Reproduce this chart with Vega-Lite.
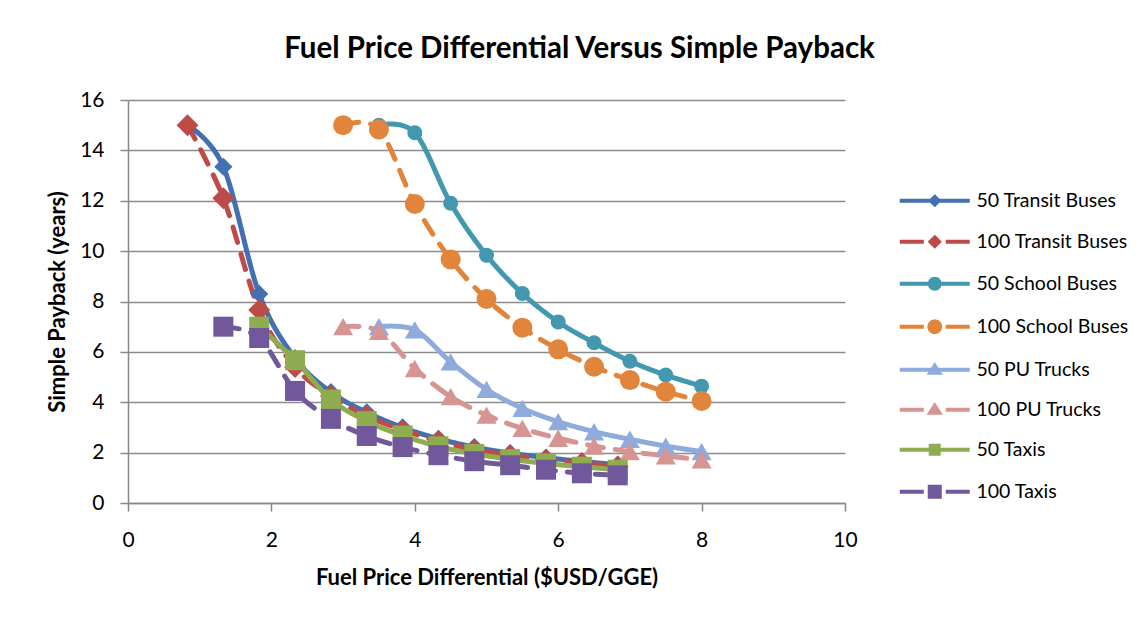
{
  "$schema": "https://vega.github.io/schema/vega-lite/v6.json",
  "width": 717,
  "height": 403,
  "autosize": {"type": "none"},
  "padding": {"left": 128, "top": 100, "right": 301, "bottom": 116},
  "background": "white",
  "config": {"font": "Lato", "view": {"stroke": null}},
  "title": {
    "text": "Fuel Price Differential Versus Simple Payback",
    "font": "Lato",
    "fontSize": 29.5,
    "fontWeight": "bold",
    "color": "black",
    "anchor": "middle",
    "frame": "group",
    "dx": 93,
    "offset": 25
  },
  "data": {
    "values": [
      {"series": "50 Transit Buses", "x": 0.83, "y": 15.0},
      {"series": "50 Transit Buses", "x": 1.33, "y": 13.35},
      {"series": "50 Transit Buses", "x": 1.83, "y": 8.3},
      {"series": "50 Transit Buses", "x": 2.33, "y": 5.75},
      {"series": "50 Transit Buses", "x": 2.83, "y": 4.4},
      {"series": "50 Transit Buses", "x": 3.33, "y": 3.6},
      {"series": "50 Transit Buses", "x": 3.83, "y": 3.0},
      {"series": "50 Transit Buses", "x": 4.33, "y": 2.55},
      {"series": "50 Transit Buses", "x": 4.83, "y": 2.22},
      {"series": "50 Transit Buses", "x": 5.33, "y": 1.98},
      {"series": "50 Transit Buses", "x": 5.83, "y": 1.8},
      {"series": "50 Transit Buses", "x": 6.33, "y": 1.65},
      {"series": "50 Transit Buses", "x": 6.83, "y": 1.52},
      {"series": "100 Transit Buses", "x": 0.83, "y": 15.0},
      {"series": "100 Transit Buses", "x": 1.33, "y": 12.1},
      {"series": "100 Transit Buses", "x": 1.83, "y": 7.66},
      {"series": "100 Transit Buses", "x": 2.33, "y": 5.4},
      {"series": "100 Transit Buses", "x": 2.83, "y": 4.25},
      {"series": "100 Transit Buses", "x": 3.33, "y": 3.45},
      {"series": "100 Transit Buses", "x": 3.83, "y": 2.9},
      {"series": "100 Transit Buses", "x": 4.33, "y": 2.45},
      {"series": "100 Transit Buses", "x": 4.83, "y": 2.12},
      {"series": "100 Transit Buses", "x": 5.33, "y": 1.9},
      {"series": "100 Transit Buses", "x": 5.83, "y": 1.72},
      {"series": "100 Transit Buses", "x": 6.33, "y": 1.58},
      {"series": "100 Transit Buses", "x": 6.83, "y": 1.45},
      {"series": "50 School Buses", "x": 3.5, "y": 15.0},
      {"series": "50 School Buses", "x": 4.0, "y": 14.7},
      {"series": "50 School Buses", "x": 4.5, "y": 11.9},
      {"series": "50 School Buses", "x": 5.0, "y": 9.84},
      {"series": "50 School Buses", "x": 5.5, "y": 8.32},
      {"series": "50 School Buses", "x": 6.0, "y": 7.19},
      {"series": "50 School Buses", "x": 6.5, "y": 6.36},
      {"series": "50 School Buses", "x": 7.0, "y": 5.63},
      {"series": "50 School Buses", "x": 7.5, "y": 5.08},
      {"series": "50 School Buses", "x": 8.0, "y": 4.64},
      {"series": "100 School Buses", "x": 3.0, "y": 15.0},
      {"series": "100 School Buses", "x": 3.5, "y": 14.83},
      {"series": "100 School Buses", "x": 4.0, "y": 11.87},
      {"series": "100 School Buses", "x": 4.5, "y": 9.67},
      {"series": "100 School Buses", "x": 5.0, "y": 8.1},
      {"series": "100 School Buses", "x": 5.5, "y": 6.96},
      {"series": "100 School Buses", "x": 6.0, "y": 6.1},
      {"series": "100 School Buses", "x": 6.5, "y": 5.41},
      {"series": "100 School Buses", "x": 7.0, "y": 4.88},
      {"series": "100 School Buses", "x": 7.5, "y": 4.42},
      {"series": "100 School Buses", "x": 8.0, "y": 4.05},
      {"series": "50 PU Trucks", "x": 3.5, "y": 7.0},
      {"series": "50 PU Trucks", "x": 4.0, "y": 6.87},
      {"series": "50 PU Trucks", "x": 4.5, "y": 5.6},
      {"series": "50 PU Trucks", "x": 5.0, "y": 4.51},
      {"series": "50 PU Trucks", "x": 5.5, "y": 3.76},
      {"series": "50 PU Trucks", "x": 6.0, "y": 3.23},
      {"series": "50 PU Trucks", "x": 6.5, "y": 2.83},
      {"series": "50 PU Trucks", "x": 7.0, "y": 2.53},
      {"series": "50 PU Trucks", "x": 7.5, "y": 2.26},
      {"series": "50 PU Trucks", "x": 8.0, "y": 2.04},
      {"series": "100 PU Trucks", "x": 3.0, "y": 7.0},
      {"series": "100 PU Trucks", "x": 3.5, "y": 6.82},
      {"series": "100 PU Trucks", "x": 4.0, "y": 5.34},
      {"series": "100 PU Trucks", "x": 4.5, "y": 4.22},
      {"series": "100 PU Trucks", "x": 5.0, "y": 3.49},
      {"series": "100 PU Trucks", "x": 5.5, "y": 2.96},
      {"series": "100 PU Trucks", "x": 6.0, "y": 2.57},
      {"series": "100 PU Trucks", "x": 6.5, "y": 2.26},
      {"series": "100 PU Trucks", "x": 7.0, "y": 2.04},
      {"series": "100 PU Trucks", "x": 7.5, "y": 1.87},
      {"series": "100 PU Trucks", "x": 8.0, "y": 1.71},
      {"series": "50 Taxis", "x": 1.83, "y": 7.0},
      {"series": "50 Taxis", "x": 2.33, "y": 5.67},
      {"series": "50 Taxis", "x": 2.83, "y": 4.11},
      {"series": "50 Taxis", "x": 3.33, "y": 3.25},
      {"series": "50 Taxis", "x": 3.83, "y": 2.68},
      {"series": "50 Taxis", "x": 4.33, "y": 2.25},
      {"series": "50 Taxis", "x": 4.83, "y": 1.95},
      {"series": "50 Taxis", "x": 5.33, "y": 1.74},
      {"series": "50 Taxis", "x": 5.83, "y": 1.57},
      {"series": "50 Taxis", "x": 6.33, "y": 1.44},
      {"series": "50 Taxis", "x": 6.83, "y": 1.32},
      {"series": "100 Taxis", "x": 1.33, "y": 7.0},
      {"series": "100 Taxis", "x": 1.83, "y": 6.55},
      {"series": "100 Taxis", "x": 2.33, "y": 4.45},
      {"series": "100 Taxis", "x": 2.83, "y": 3.34},
      {"series": "100 Taxis", "x": 3.33, "y": 2.66},
      {"series": "100 Taxis", "x": 3.83, "y": 2.22},
      {"series": "100 Taxis", "x": 4.33, "y": 1.9},
      {"series": "100 Taxis", "x": 4.83, "y": 1.66},
      {"series": "100 Taxis", "x": 5.33, "y": 1.5},
      {"series": "100 Taxis", "x": 5.83, "y": 1.32},
      {"series": "100 Taxis", "x": 6.33, "y": 1.18},
      {"series": "100 Taxis", "x": 6.83, "y": 1.1}
    ]
  },
  "encoding": {
    "x": {
      "field": "x",
      "type": "quantitative",
      "scale": {"domain": [0, 10], "nice": false, "zero": true},
      "axis": {
        "values": [0, 2, 4, 6, 8, 10],
        "grid": false,
        "domainColor": "#888888",
        "domainWidth": 1.5,
        "tickColor": "#888888",
        "tickWidth": 1.5,
        "tickSize": 8,
        "labelFont": "Lato",
        "labelFontSize": 21,
        "labelColor": "black",
        "labelPadding": 18,
        "labelFlush": false,
        "labelOverlap": false,
        "title": "Fuel Price Differential ($USD/GGE)",
        "titleFont": "Lato",
        "titleFontSize": 22,
        "titleFontWeight": "bold",
        "titleColor": "black",
        "titleBaseline": "top",
        "titleY": 64
      }
    },
    "y": {
      "field": "y",
      "type": "quantitative",
      "scale": {"domain": [0, 16], "nice": false},
      "axis": {
        "values": [0, 2, 4, 6, 8, 10, 12, 14, 16],
        "grid": true,
        "gridColor": "#8c8c8c",
        "gridWidth": 1.5,
        "domainColor": "#888888",
        "domainWidth": 1.5,
        "tickColor": "#888888",
        "tickWidth": 1.5,
        "tickSize": 8,
        "labelFont": "Lato",
        "labelFontSize": 21,
        "labelColor": "black",
        "labelPadding": 16,
        "labelFlush": false,
        "labelOverlap": false,
        "title": "Simple Payback (years)",
        "titleFont": "Lato",
        "titleFontSize": 22,
        "titleFontWeight": "bold",
        "titleColor": "black",
        "titleBaseline": "middle",
        "titleX": -71
      }
    },
    "color": {
      "field": "series",
      "type": "nominal",
      "scale": {
        "domain": ["50 Transit Buses", "100 Transit Buses", "50 School Buses", "100 School Buses", "50 PU Trucks", "100 PU Trucks", "50 Taxis", "100 Taxis"],
        "range": ["#4270B0", "#BE4B48", "#4198AF", "#E0853B", "#8FAADC", "#D69492", "#8FAC50", "#71589B"]
      },
      "legend": null
    }
  },
  "layer": [
    {
      "mark": {"type": "line", "interpolate": "cardinal", "strokeWidth": 5, "strokeCap": "round", "strokeJoin": "round"},
      "encoding": {
        "strokeDash": {
          "field": "series",
          "type": "nominal",
          "scale": {
            "domain": ["50 Transit Buses", "100 Transit Buses", "50 School Buses", "100 School Buses", "50 PU Trucks", "100 PU Trucks", "50 Taxis", "100 Taxis"],
            "range": [[1, 0], [16, 12], [1, 0], [16, 12], [1, 0], [16, 12], [1, 0], [16, 12]]
          },
          "legend": null
        }
      }
    },
    {
      "mark": {"type": "point", "filled": true, "opacity": 1},
      "encoding": {
        "shape": {
          "field": "series",
          "type": "nominal",
          "scale": {
            "domain": ["50 Transit Buses", "100 Transit Buses", "50 School Buses", "100 School Buses", "50 PU Trucks", "100 PU Trucks", "50 Taxis", "100 Taxis"],
            "range": ["diamond", "diamond", "circle", "circle", "triangle-up", "triangle-up", "square", "square"]
          },
          "legend": null
        },
        "size": {
          "condition": [
            {"test": "datum.series === '50 Transit Buses'", "value": 330},
            {"test": "datum.series === '100 Transit Buses'", "value": 480},
            {"test": "datum.series === '50 School Buses'", "value": 225}
          ],
          "value": 400
        }
      }
    },
    {
      "transform": [{"filter": "false"}],
      "mark": {"type": "point", "filled": true},
      "encoding": {
        "color": {
          "field": "series",
          "type": "nominal",
          "scale": {
            "domain": ["50 Transit Buses", "100 Transit Buses", "50 School Buses", "100 School Buses", "50 PU Trucks", "100 PU Trucks", "50 Taxis", "100 Taxis"],
            "range": ["#4270B0", "#BE4B48", "#4198AF", "#E0853B", "#8FAADC", "#D69492", "#8FAC50", "#71589B"]
          },
          "legend": {
            "orient": "none",
            "legendX": 797,
            "legendY": 91,
            "title": null,
            "padding": 0,
            "symbolSize": 100,
            "symbolStrokeWidth": 4,
            "symbolOpacity": 1,
            "labelFont": "Lato",
            "labelFontSize": 19.5,
            "labelColor": "black",
            "labelOffset": 32,
            "rowPadding": 16
          }
        },
        "stroke": {
          "field": "series",
          "type": "nominal",
          "scale": {
            "domain": ["50 Transit Buses", "100 Transit Buses", "50 School Buses", "100 School Buses", "50 PU Trucks", "100 PU Trucks", "50 Taxis", "100 Taxis"],
            "range": ["#4270B0", "#BE4B48", "#4198AF", "#E0853B", "#8FAADC", "#D69492", "#8FAC50", "#71589B"]
          },
          "legend": null
        },
        "shape": {
          "field": "series",
          "type": "nominal",
          "scale": {
            "domain": ["50 Transit Buses", "100 Transit Buses", "50 School Buses", "100 School Buses", "50 PU Trucks", "100 PU Trucks", "50 Taxis", "100 Taxis"],
            "range": [
              "M-7,0H7M0,-0.75L0.75,0L0,0.75L-0.75,0Z",
              "M-7,0H-2.2M2.2,0H7M0,-0.85L0.85,0L0,0.85L-0.85,0Z",
              "M-7,0H7M1,0L0.87,0.5L0.5,0.87L0,1L-0.5,0.87L-0.87,0.5L-1,0L-0.87,-0.5L-0.5,-0.87L0,-1L0.5,-0.87L0.87,-0.5Z",
              "M-7,0H-2.2M2.2,0H7M1.1,0L0.95,0.55L0.55,0.95L0,1.1L-0.55,0.95L-0.95,0.55L-1.1,0L-0.95,-0.55L-0.55,-0.95L0,-1.1L0.55,-0.95L0.95,-0.55Z",
              "M-7,0H7M0,-0.8L0.9,0.6L-0.9,0.6Z",
              "M-7,0H-2.2M2.2,0H7M0,-0.8L0.9,0.6L-0.9,0.6Z",
              "M-7,0H7M-0.8,-0.8H0.8V0.8H-0.8Z",
              "M-7,0H-2.2M2.2,0H7M-1,-1H1V1H-1Z"
            ]
          },
          "legend": null
        }
      }
    }
  ],
  "resolve": {"scale": {"color": "independent", "shape": "independent", "stroke": "independent"}}
}
